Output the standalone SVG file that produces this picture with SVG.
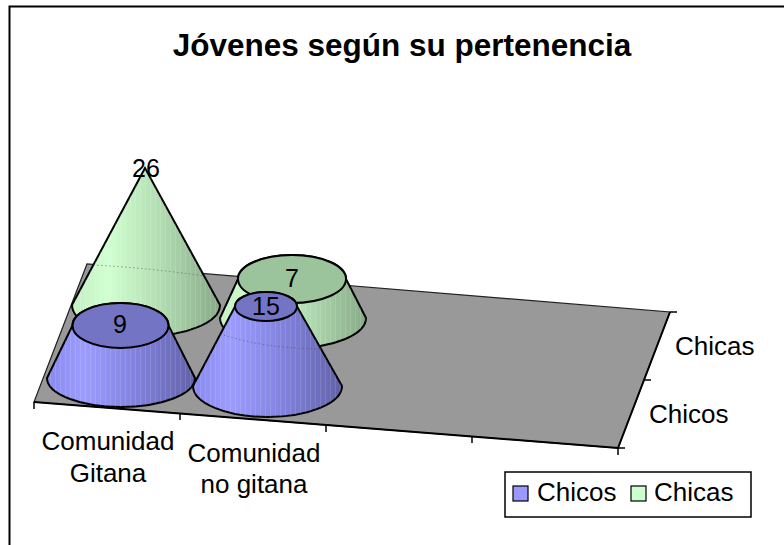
<svg xmlns="http://www.w3.org/2000/svg" width="784" height="545" viewBox="0 0 784 545">
  <style>
    text { font-family: "Liberation Sans", Arial, sans-serif; fill: #000; }
    .title { font-size: 31.5px; font-weight: bold; text-anchor: middle; }
    .lbl { font-size: 26px; }
    .cat { font-size: 26px; text-anchor: middle; }
    .val { font-size: 25px; text-anchor: middle; }
    .edge { fill: none; stroke: #000; stroke-width: 2; }
    .tick { stroke: #000; stroke-width: 1.5; }
    .side-b { fill: url(#gb); stroke: #000; stroke-width: 2; }
    .side-g { fill: url(#gg); stroke: #000; stroke-width: 2; }
    .str { fill: url(#stripes); stroke: none; }
    .top-b { fill: #7474c4; stroke: #000; stroke-width: 2; }
    .top-g { fill: #9cc49c; stroke: #000; stroke-width: 2; }
    .dots { fill: none; stroke: #555; stroke-width: 1; stroke-dasharray: 1.5 2.5; opacity: 0.6; }
  </style>
  <defs>
    <linearGradient id="gb" x1="0" y1="0" x2="1" y2="0">
      <stop offset="0" stop-color="#8a8aee"/>
      <stop offset="0.25" stop-color="#9c9cff"/>
      <stop offset="0.6" stop-color="#8282de"/>
      <stop offset="1" stop-color="#6262a8"/>
    </linearGradient>
    <linearGradient id="gg" x1="0" y1="0" x2="1" y2="0">
      <stop offset="0" stop-color="#c4f0c4"/>
      <stop offset="0.25" stop-color="#d0ffd0"/>
      <stop offset="0.6" stop-color="#b2dcb2"/>
      <stop offset="1" stop-color="#88aa88"/>
    </linearGradient>
    <pattern id="stripes" width="5" height="10" patternUnits="userSpaceOnUse">
      <rect x="0" y="0" width="1" height="10" fill="#ffffff" opacity="0.12"/>
    </pattern>
  </defs>

  <rect x="0" y="0" width="784" height="545" fill="#ffffff"/>
  <path d="M9.5,545 L9.5,6.5 L784,6.5" fill="none" stroke="#000" stroke-width="2"/>

  <text class="title" x="402" y="56">Jóvenes según su pertenencia</text>

  <g id="floor">
    <path d="M34,402 L87,264 L670,312 L618,448 Z" fill="#999999" stroke="#222" stroke-width="1.2"/>
  </g>

  <g id="connectors">
    <path class="edge" d="M34,402 L618,448 L670,312"/>
    <line class="tick" x1="34" y1="402" x2="34" y2="409"/>
    <line class="tick" x1="180" y1="413.5" x2="180" y2="420"/>
    <line class="tick" x1="326" y1="425" x2="326" y2="432"/>
    <line class="tick" x1="472" y1="436.5" x2="472" y2="443"/>
    <line class="tick" x1="618" y1="448" x2="618" y2="455"/>
    <line class="tick" x1="618" y1="448" x2="625" y2="448"/>
    <line class="tick" x1="644" y1="380" x2="651" y2="380"/>
    <line class="tick" x1="670" y1="312" x2="677" y2="312"/>
  </g>

  <g id="cone-chicas-gitana">
    <path class="side-g" d="M145,168 L72,305 A74,31 0 0 0 220,305 Z"/>
    <path class="str" d="M145,168 L72,305 A74,31 0 0 0 220,305 Z"/>
    <path class="dots" d="M93,265 Q150,268 204,276"/>
    <text class="val" x="146" y="177">26</text>
  </g>

  <g id="cone-chicas-nogitana">
    <path class="side-g" d="M220,318 L238,279 A54,24 0 0 1 346,279 L366,318 A73,30 0 0 1 220,318 Z"/>
    <path class="str" d="M220,318 L238,279 A54,24 0 0 1 346,279 L366,318 A73,30 0 0 1 220,318 Z"/>
    <ellipse class="top-g" cx="292" cy="279" rx="54" ry="24"/>
    <text class="val" x="292" y="287">7</text>
  </g>

  <g id="cone-chicos-gitana">
    <path class="side-b" d="M47,378 L72.5,325.5 A48,22.5 0 0 1 168.5,325.5 L195,378 A74,29 0 0 1 47,378 Z"/>
    <path class="str" d="M47,378 L72.5,325.5 A48,22.5 0 0 1 168.5,325.5 L195,378 A74,29 0 0 1 47,378 Z"/>
    <ellipse class="top-b" cx="120.5" cy="325.5" rx="48" ry="22.5"/>
    <text class="val" x="120" y="333">9</text>
  </g>

  <g id="cone-chicos-nogitana">
    <path class="side-b" d="M193,386 L235,306.5 A31,14.5 0 0 1 297,306.5 L342,386 A74.5,31 0 0 1 193,386 Z"/>
    <path class="str" d="M193,386 L235,306.5 A31,14.5 0 0 1 297,306.5 L342,386 A74.5,31 0 0 1 193,386 Z"/>
    <path class="dots" d="M224,335 Q262,348 320,349"/>
    <ellipse class="top-b" cx="266" cy="306.5" rx="31" ry="14.5"/>
    <text class="val" x="266" y="315">15</text>
  </g>

  <g id="axis-labels">
    <text class="cat" x="108" y="450">Comunidad</text>
    <text class="cat" x="108" y="482">Gitana</text>
    <text class="cat" x="254" y="462">Comunidad</text>
    <text class="cat" x="254" y="493">no gitana</text>
    <text class="lbl" x="675" y="355">Chicas</text>
    <text class="lbl" x="649" y="423">Chicos</text>
  </g>

  <g id="legend">
    <rect x="505" y="472" width="246" height="45" fill="#ffffff" stroke="#000" stroke-width="1.5"/>
    <rect x="513" y="486" width="15" height="15" fill="#9999ff" stroke="#000" stroke-width="1.2"/>
    <text class="lbl" x="537" y="501">Chicos</text>
    <rect x="631" y="486" width="15" height="15" fill="#ccffcc" stroke="#000" stroke-width="1.2"/>
    <text class="lbl" x="654" y="501">Chicas</text>
  </g>
</svg>
